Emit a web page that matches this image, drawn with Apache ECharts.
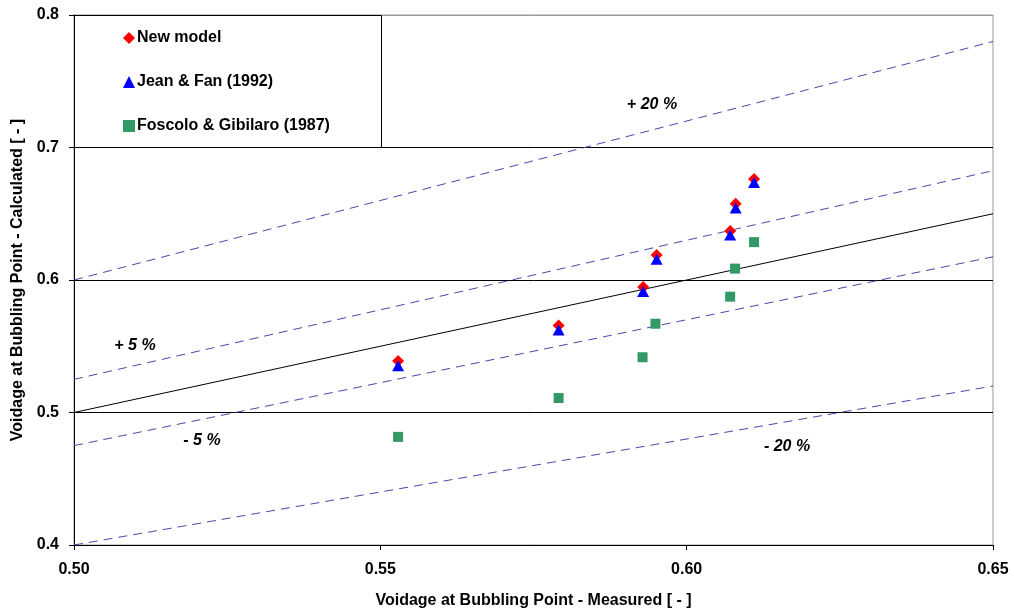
<!DOCTYPE html>
<html><head><meta charset="utf-8">
<script src="https://cdn.jsdelivr.net/npm/echarts@6/dist/echarts.min.js"></script>
<style>html,body{margin:0;padding:0;background:#fff}#c{width:1014px;height:614px}</style>
</head><body><div id="c"></div>
<script>
const measured = [0.5529, 0.5791, 0.5929, 0.5951, 0.6071, 0.6080, 0.6110];
const newModel = [0.5389, 0.5657, 0.5947, 0.6189, 0.6369, 0.6576, 0.6763];
const jeanFan = [0.5352, 0.5622, 0.5914, 0.6156, 0.6339, 0.6543, 0.6735];
const foscoloX = [0.5529, 0.5791, 0.5928, 0.5949, 0.6071, 0.6079, 0.6110];
const foscolo = [0.4816, 0.5109, 0.5417, 0.5670, 0.5874, 0.6086, 0.6286];
const lineX = [0.50, 0.65];
const parity = [0.50, 0.65];
const plus5 = [0.525, 0.6825];
const minus5 = [0.475, 0.6175];
const plus20 = [0.60, 0.78];
const minus20 = [0.40, 0.52];
const xTicks = [0.50, 0.55, 0.60, 0.65];
const yTicks = [0.4, 0.5, 0.6, 0.7, 0.8];

const FONT = '"Liberation Sans", Arial, sans-serif';
const zip = (xs, ys) => xs.map((x, i) => [x, ys[i]]);
const dashStyle = {color: '#4848a8', width: 1, type: [9, 6]};
function refLine(ys, style) {
  return {type: 'line', data: zip(lineX, ys), symbol: 'none', silent: true,
    lineStyle: style, z: 1, animation: false};
}
const txt = (s) => ({text: s, font: 'italic bold 16px ' + FONT, fill: '#000', align: 'center', verticalAlign: 'middle'});
const chart = echarts.init(document.getElementById('c'), null, {renderer: 'canvas'});
chart.setOption({
  animation: false,
  backgroundColor: '#fff',
  grid: {left: 74, right: 21, top: 15, bottom: 69, show: true, borderColor: '#999', borderWidth: 1},
  xAxis: {
    type: 'value', min: 0.50, max: 0.65, interval: 0.05,
    name: 'Voidage at Bubbling Point - Measured [ - ]', nameLocation: 'middle', nameGap: 48,
    nameTextStyle: {fontFamily: FONT, fontSize: 16, fontWeight: 'bold', color: '#000'},
    axisLine: {lineStyle: {color: '#000', width: 1}},
    axisTick: {show: true, length: 5, lineStyle: {color: '#000'}},
    axisLabel: {fontFamily: FONT, fontSize: 16, fontWeight: 'bold', color: '#000', margin: 17,
      formatter: v => v.toFixed(2)},
    splitLine: {show: false}
  },
  yAxis: {
    type: 'value', min: 0.4, max: 0.8, interval: 0.1,
    name: 'Voidage at Bubbling Point - Calculated [ - ]', nameLocation: 'middle', nameGap: 43,
    nameTextStyle: {fontFamily: FONT, fontSize: 16, fontWeight: 'bold', color: '#000'},
    axisLine: {show: true, lineStyle: {color: '#000', width: 1}},
    axisTick: {show: true, length: 5, lineStyle: {color: '#000'}},
    axisLabel: {fontFamily: FONT, fontSize: 16, fontWeight: 'bold', color: '#000', margin: 15,
      formatter: v => v.toFixed(1)},
    splitLine: {show: true, lineStyle: {color: ['#000', '#000', '#000', '#000', '#999'], width: 1}}
  },
  legend: {
    show: true, orient: 'vertical', left: 118, top: 25, itemGap: 28,
    itemWidth: 12, itemHeight: 12,
    textStyle: {fontFamily: FONT, fontSize: 16, fontWeight: 'bold', color: '#000', padding: [0, 0, 0, -3]},
    data: ['New model', 'Jean & Fan (1992)', 'Foscolo & Gibilaro (1987)'],
    z: 10
  },
  graphic: [
    {type: 'rect', left: 74, top: 15, z: 5, shape: {width: 307, height: 132},
      style: {fill: '#fff', stroke: '#000', lineWidth: 1}},
    {type: 'text', x: 652, y: 105, z: 20, style: txt('+ 20 %')},
    {type: 'text', x: 135, y: 346, z: 20, style: txt('+ 5 %')},
    {type: 'text', x: 202, y: 441, z: 20, style: txt('- 5 %')},
    {type: 'text', x: 787, y: 447, z: 20, style: txt('- 20 %')}
  ],
  series: [
    refLine(parity, {color: '#000', width: 1, type: 'solid'}),
    refLine(plus5, dashStyle),
    refLine(minus5, dashStyle),
    refLine(plus20, dashStyle),
    refLine(minus20, dashStyle),
    {name: 'New model', type: 'scatter', data: zip(measured, newModel), symbol: 'diamond',
      symbolSize: [12, 12], itemStyle: {color: '#ff0000', opacity: 1}, z: 3},
    {name: 'Jean & Fan (1992)', type: 'scatter', data: zip(measured, jeanFan), symbol: 'triangle',
      symbolSize: [12, 11], itemStyle: {color: '#0000ff', opacity: 1}, z: 4},
    {name: 'Foscolo & Gibilaro (1987)', type: 'scatter', data: zip(foscoloX, foscolo), symbol: 'rect',
      symbolSize: 10, itemStyle: {color: '#339966', opacity: 1}, z: 3}
  ]
});
</script>
</body></html>
